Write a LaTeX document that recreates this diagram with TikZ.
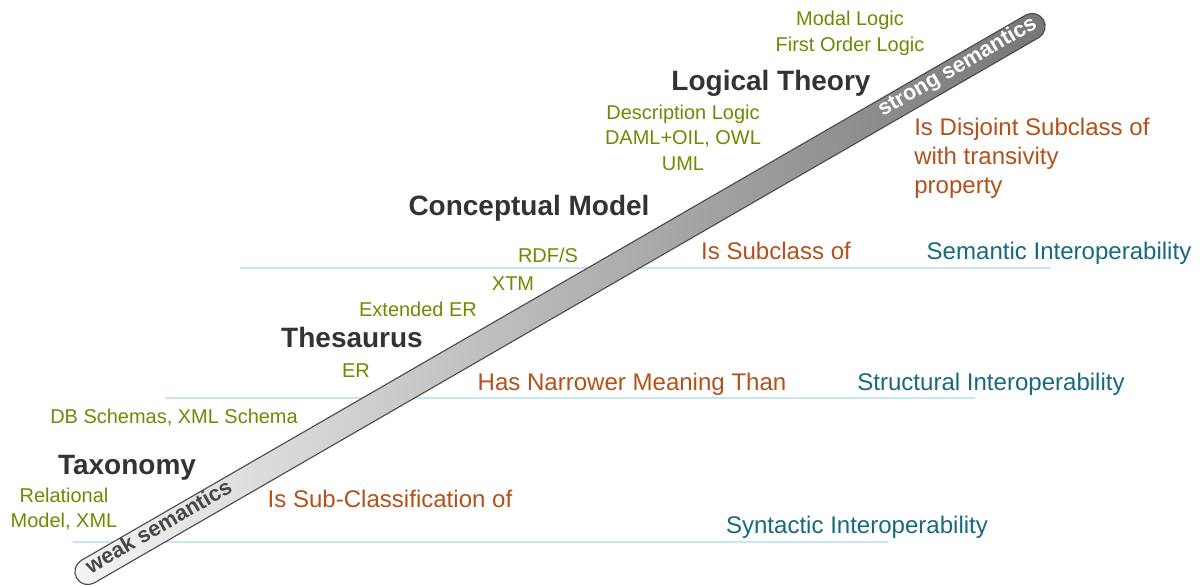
\documentclass[tikz,border=0pt]{standalone}
\usepackage{fontspec}
\setmainfont{Liberation Sans}
\usetikzlibrary{calc}

\definecolor{titlegray}{HTML}{333333}
\definecolor{langgreen}{HTML}{6B8C00}
\definecolor{relorange}{HTML}{B4501A}
\definecolor{interteal}{HTML}{16697F}
\definecolor{sepblue}{HTML}{C6E6F0}
\definecolor{barend}{HTML}{767676}

\begin{document}
\begin{tikzpicture}[x=0.025cm, y=-0.025cm,
    level/.style={inner sep=0, anchor=base, text=titlegray,
      font=\bfseries\fontsize{19.9}{24}\selectfont},
    lang/.style={inner sep=0, anchor=base, align=center, text=langgreen,
      font=\fontsize{14.2}{17.8}\selectfont},
    rel/.style={inner sep=0, anchor=base, align=left, text=relorange,
      font=\fontsize{17.1}{20.8}\selectfont},
    interop/.style={inner sep=0, anchor=base, text=interteal,
      font=\fontsize{17.1}{20.8}\selectfont},
    sep/.style={draw=sepblue, line width=1.4pt},
    bar/.style={draw=black!70, line width=0.8pt, rounded corners=0.325cm,
      minimum width=27.9cm, minimum height=0.65cm, inner sep=0,
      left color=white!96!black, right color=barend, rotate=30},
    barlabel/.style={rotate=30, inner sep=0, text height=0.52em, text depth=0pt,
      font=\bfseries\fontsize{15.4}{18}\selectfont}]
    \useasboundingbox (0,0) rectangle (1200,585);
    % interoperability levels
    \coordinate (s1) at (240,268);  \coordinate (s2) at (1051,268);
    \coordinate (t1) at (165,398);  \coordinate (t2) at (975,398);
    \coordinate (y1) at (73,542);   \coordinate (y2) at (888,542);
    \draw[sep] (s1) -- (s2);
    \draw[sep] (t1) -- (t2);
    \draw[sep] (y1) -- (y2);
    % the semantics bar
    \node[bar] (bar) at (560,299) {};
    \node[barlabel, text=black!72] (weak) at ($(bar.west)!0.087!(bar.east)$) {weak semantics};
    \node[barlabel, text=white] (strong) at ($(bar.west)!0.912!(bar.east)$) {strong semantics};
    % levels
    \node[level] (lt) at (771,90) {Logical Theory};
    \node[level] (cm) at (529,215) {Conceptual Model};
    \node[level] (th) at (352,347) {Thesaurus};
    \node[level] (tx) at (127,474) {Taxonomy};
    % languages (base is the last line)
    \node[lang] (ml) at (850,51) {Modal Logic\\First Order Logic};
    \node[lang] (dl) at (683,170) {Description Logic\\DAML+OIL, OWL\\UML};
    \node[lang] (rdf) at (548,262) {RDF/S};
    \node[lang] (xtm) at (513,290) {XTM};
    \node[lang] (eer) at (418,316) {Extended ER};
    \node[lang] (er) at (356,377) {ER};
    \node[lang] (db) at (174,423) {DB Schemas, XML Schema};
    \node[lang] (rm) at (64,527.5) {Relational\\Model, XML};
    % relations
    \node[rel, anchor=base west] (dj) at (914,193.5) {Is Disjoint Subclass of\\with transivity\\property};
    \node[rel] (sc) at (776,259) {Is Subclass of};
    \node[rel] (nm) at (632,390) {Has Narrower Meaning Than};
    \node[rel] (cl) at (390,507) {Is Sub-Classification of};
    % interoperability
    \node[interop] (sem) at (1059,259) {Semantic Interoperability};
    \node[interop] (str) at (991,390) {Structural Interoperability};
    \node[interop] (syn) at (857,533) {Syntactic Interoperability};
\end{tikzpicture}
\end{document}
